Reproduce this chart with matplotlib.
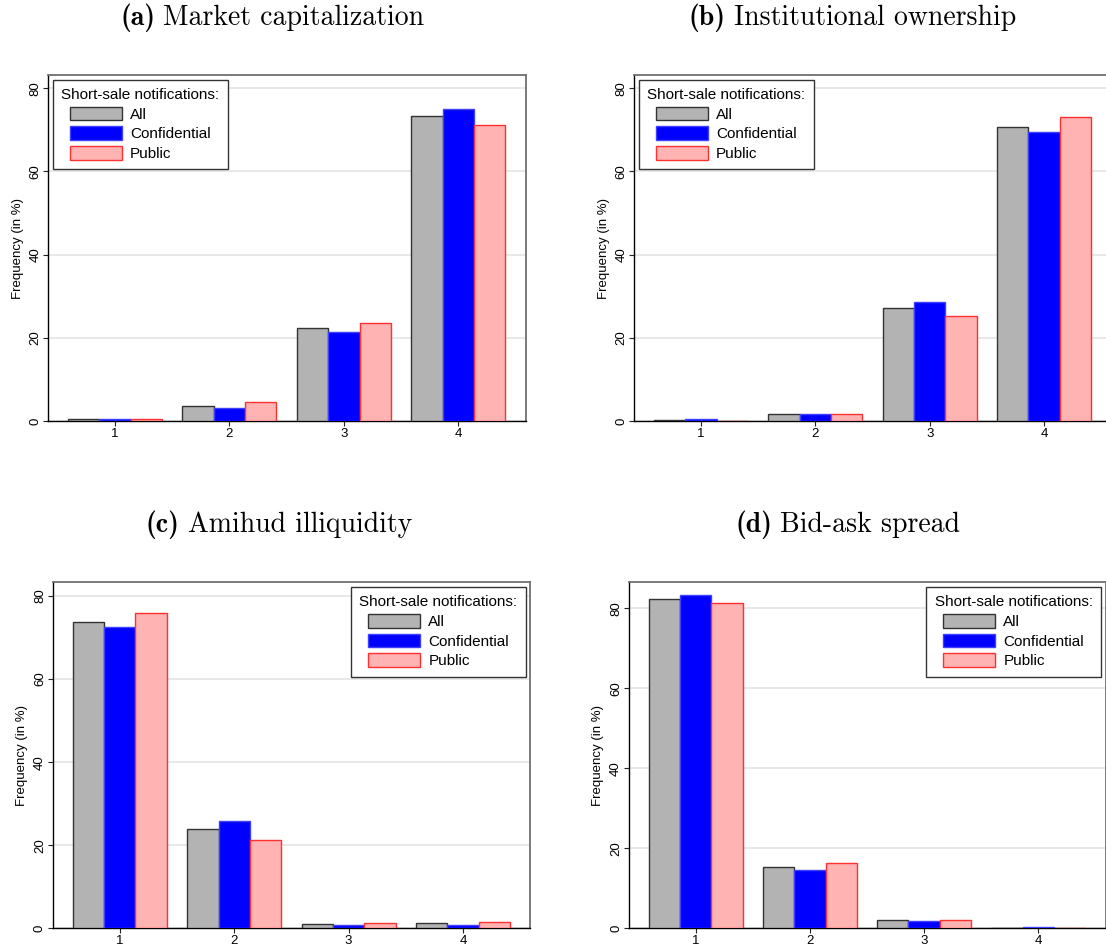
import numpy as np
import matplotlib
matplotlib.use("Agg")
import matplotlib.pyplot as plt

# --- data (frequency in %) ---
quartiles = [1, 2, 3, 4]
series_names = ["All", "Confidential", "Public"]

mcap_all = [0.5, 3.7, 22.3, 73.3]
mcap_conf = [0.4, 3.2, 21.5, 75.0]
mcap_pub = [0.6, 4.5, 23.5, 71.2]

inst_all = [0.2, 1.7, 27.1, 70.8]
inst_conf = [0.4, 1.8, 28.5, 69.4]
inst_pub = [0.05, 1.6, 25.2, 73.1]

amihud_all = [73.8, 23.9, 1.0, 1.2]
amihud_conf = [72.5, 25.9, 0.9, 0.7]
amihud_pub = [75.9, 21.3, 1.2, 1.6]

spread_all = [82.2, 15.3, 2.0, 0.2]
spread_conf = [83.2, 14.7, 1.9, 0.3]
spread_pub = [81.2, 16.3, 2.2, 0.1]

titles = ["Market capitalization", "Institutional ownership",
          "Amihud illiquidity", "Bid-ask spread"]
letters = ["(a)", "(b)", "(c)", "(d)"]

plt.rcParams["font.family"] = ["Liberation Sans", "DejaVu Sans"]

W, H = 1106, 947
fig = plt.figure(figsize=(W / 100, H / 100), dpi=100)


def px_axes(left, top, right, bottom):
    return fig.add_axes([left / W, 1 - bottom / H, (right - left) / W, (bottom - top) / H])


fills = ["#b3b3b3", "#0000ff", "#ffb3b3"]
edges = ["#333333", "#4040ff", "#ff3030"]

panels = [
    ((48.2, 75, 525.7, 421), (mcap_all, mcap_conf, mcap_pub), 83.2, "upper left"),
    ((634.2, 75, 1111.6, 421), (inst_all, inst_conf, inst_pub), 83.2, "upper left"),
    ((52.9, 582.3, 530.4, 928.3), (amihud_all, amihud_conf, amihud_pub), 83.3, "upper right"),
    ((629, 582.3, 1105.5, 928.3), (spread_all, spread_conf, spread_pub), 86.5, "upper right"),
]

x = np.array(quartiles, dtype=float)
bw = 0.274

for (box, data, ytop, loc) in panels:
    ax = px_axes(*box)
    for i, (vals, name) in enumerate(zip(data, series_names)):
        ax.bar(x + (i - 1) * bw, vals, width=bw, color=fills[i],
               edgecolor=edges[i], linewidth=1.0, label=name, zorder=3)
    ax.set_xlim(0.415, 4.59)
    ax.set_ylim(0, ytop)
    ax.set_xticks(quartiles)
    ax.set_yticks([0, 20, 40, 60, 80])
    ax.set_yticklabels(["0", "20", "40", "60", "80"], rotation=90, va="center")
    ax.tick_params(axis="both", labelsize=9.5, length=3.5, width=0.8, pad=1.5, color="#222222")
    ax.yaxis.grid(True, color="#e4e4e4", linewidth=1.2)
    ax.set_axisbelow(True)
    for s in ["top", "right"]:
        ax.spines[s].set_color("#707070")
        ax.spines[s].set_linewidth(1.3)
    for s in ["left", "bottom"]:
        ax.spines[s].set_color("black")
        ax.spines[s].set_linewidth(1.0)
    ax.set_ylabel("Frequency (in %)", fontsize=9.5, labelpad=4)
    leg = ax.legend(loc=loc, title="Short-sale notifications:", fontsize=11,
                    title_fontsize=11, frameon=True, fancybox=False,
                    edgecolor="#333333", framealpha=1, borderaxespad=0.3,
                    handlelength=3.4, handleheight=1.0, handletextpad=0.55,
                    labelspacing=0.3, borderpad=0.55)
    leg.get_frame().set_linewidth(1.0)

# subfigure captions: bold letter + roman text (Computer Modern)
title_pos = [(272.5, 25), (852.5, 25), (279, 532), (847.5, 532)]
gap = 8
renderer = fig.canvas.get_renderer()
for (tx, ty), let, t in zip(title_pos, letters, titles):
    t1 = fig.text(0, 0, let, family="cmb10", fontsize=20, va="baseline", ha="left")
    t2 = fig.text(0, 0, t, family="cmr10", fontsize=20, va="baseline", ha="left")
    w1 = t1.get_window_extent(renderer).width
    w2 = t2.get_window_extent(renderer).width
    start = tx - (w1 + gap + w2) / 2
    t1.set_position((start / W, 1 - ty / H))
    t2.set_position(((start + w1 + gap) / W, 1 - ty / H))

fig.savefig("out.png", dpi=100)
